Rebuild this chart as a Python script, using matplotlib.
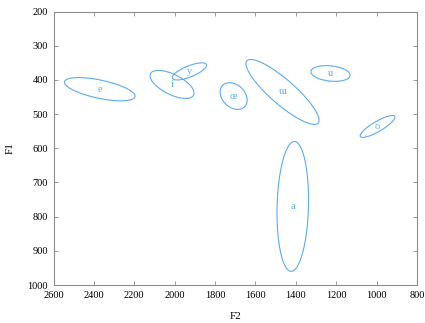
import numpy as np
import matplotlib
matplotlib.use('Agg')
import matplotlib.pyplot as plt
from matplotlib.patches import Polygon

# Vowel ellipses: centre, half-extent along each axis, tilt
vowels = ['e', 'i', 'y', 'œ', 'ɯ', 'u', 'o', 'a']
f2_centre = [2371, 2013, 1927, 1708, 1466, 1228, 995, 1415]
f1_centre = [427, 413, 375, 447, 435, 381, 536, 770]
f2_spread = [175, 109, 85, 67, 181, 97, 86, 78]
f1_spread = [34, 41, 25, 39, 95, 23, 32, 190]
corr = [-0.6, -0.62, 0.72, -0.3, -0.87, -0.22, 0.85, 0.1]

xticks = [2600, 2400, 2200, 2000, 1800, 1600, 1400, 1200, 1000, 800]
yticks = [200, 300, 400, 500, 600, 700, 800, 900, 1000]

plt.rcParams['font.family'] = ['Liberation Serif', 'DejaVu Serif']
blue = '#5aabf7'
grey = '#8c8c8c'

fig = plt.figure(figsize=(4.25, 3.23), dpi=100)
ax = fig.add_axes([0.126, 0.1176, 0.855, 0.8464])

t = np.linspace(0, 2 * np.pi, 200, endpoint=False)
for i, v in enumerate(vowels):
    r = corr[i]
    x = f2_centre[i] + f2_spread[i] * np.cos(t)
    y = f1_centre[i] + f1_spread[i] * (r * np.cos(t) + np.sqrt(1 - r * r) * np.sin(t))
    ax.add_patch(Polygon(np.column_stack([x, y]), closed=True, fill=False,
                         edgecolor=blue, lw=0.8, joinstyle='round'))
    ax.text(f2_centre[i], f1_centre[i], v, color=blue, fontsize=7.5,
            ha='center', va='center')

ax.set_xlim(2600, 800)
ax.set_ylim(1000, 200)
ax.set_xticks(xticks)
ax.set_yticks(yticks)
ax.tick_params(direction='in', top=True, right=True, length=3, width=0.6,
               color=grey, labelsize=7.5, pad=4)
for s in ax.spines.values():
    s.set_color(grey)
    s.set_linewidth(0.8)

ax.set_xlabel('F2', fontsize=8, labelpad=9)
ax.set_ylabel('F1', fontsize=8, labelpad=9)

fig.savefig('out.png', dpi=100)
